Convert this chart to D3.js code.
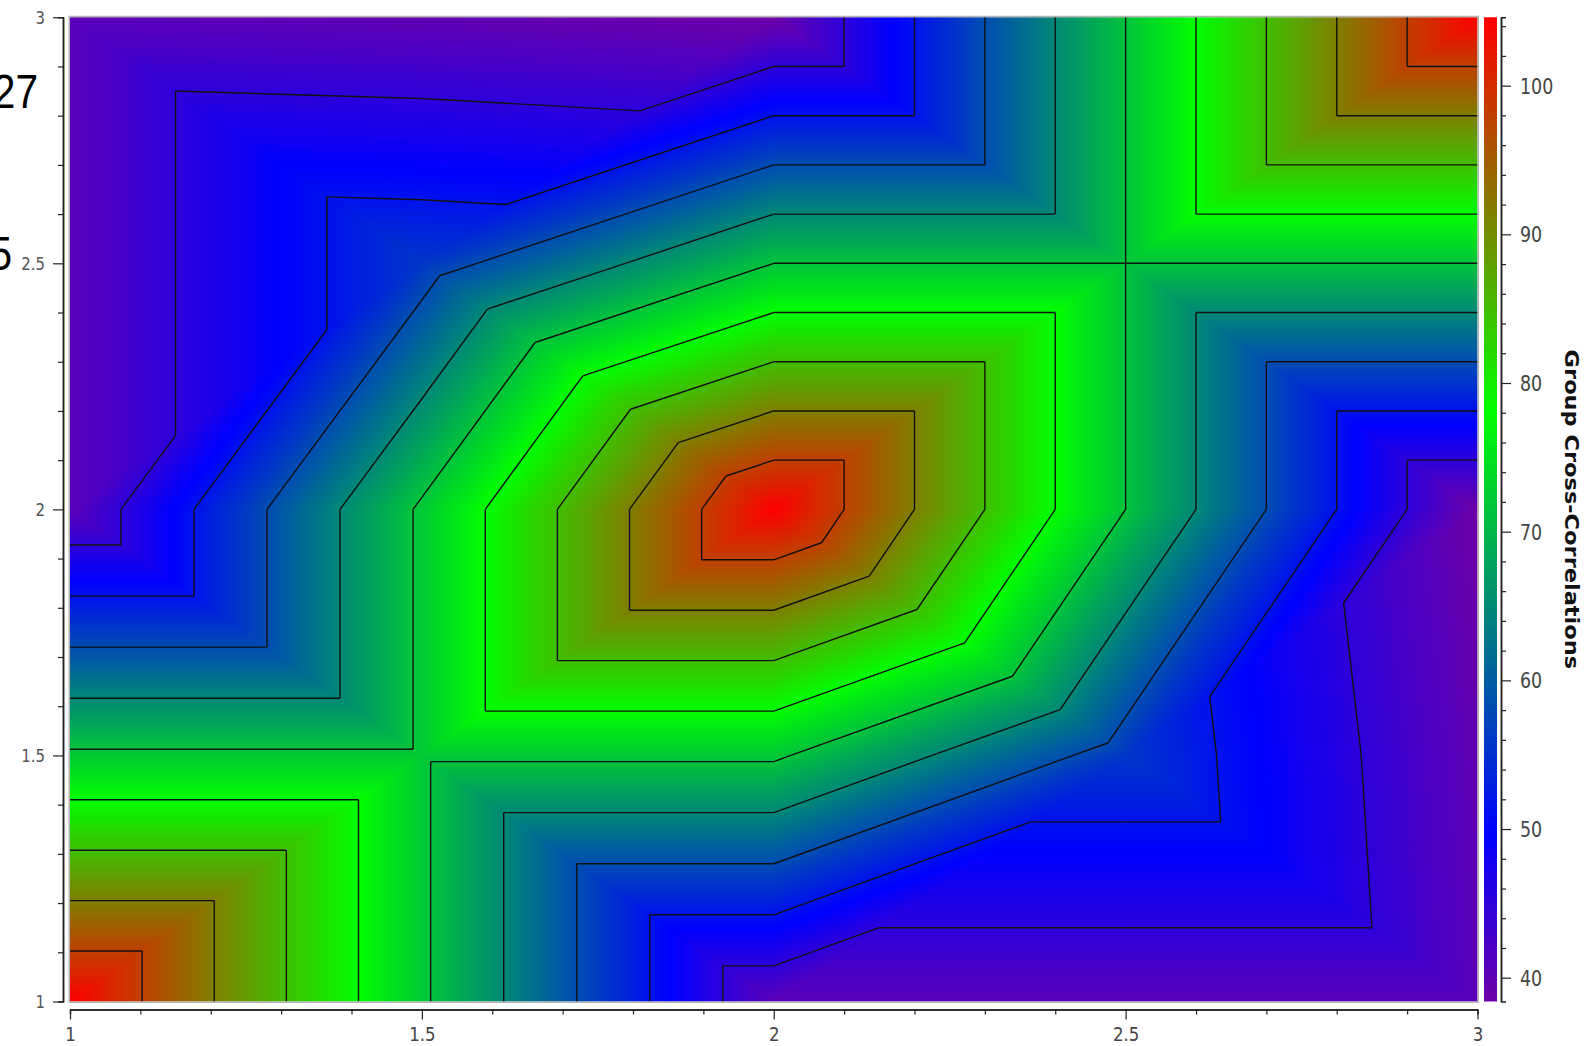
<!DOCTYPE html>
<html><head><meta charset="utf-8">
<script src="https://cdn.jsdelivr.net/npm/d3@7"></script>
<style>html,body{margin:0;padding:0;background:#fff;overflow:hidden}</style>
</head><body>
<svg id="chart" width="1591" height="1046"></svg>
<script>
// Sample grid (x and y positions of the measured nodes)
const gridX = [1, 1.5, 2, 2.5, 3];
const gridY = [1, 1.5, 2, 2.5, 3];
// Group cross-correlation values, one array per grid row (y = 1 ... 3)
const rowY1   = [104.6, 72.3, 40.4, 40.4, 40.4];
const rowY1_5 = [72.3, 72.3, 72.3, 55.8, 39.7];
const rowY2   = [40.4, 72.3, 104.6, 71.5, 38.4];
const rowY2_5 = [40.4, 55.8, 71.5, 71.5, 71.5];
const rowY3   = [40.4, 39.7, 38.4, 71.5, 104.6];
// Axis ticks
const xTicks = [1, 1.5, 2, 2.5, 3];
const yTicks = [1, 1.5, 2, 2.5, 3];
const colorTicks = [40, 50, 60, 70, 80, 90, 100];
// Colour map (fractions of the value range)
const colorStops = [0, 0.17, 0.6, 1];
const colorRange = ["#6e00a8", "#0000ff", "#00ff00", "#ff0000"];
const contourCount = 9;
const colorTitle = "Group Cross-Correlations";
const sideLabels = ["27", "5"];

const rows = [rowY1, rowY1_5, rowY2, rowY2_5, rowY3];
const allVals = rows.flat();
const vMin = d3.min(allVals), vMax = d3.max(allVals);

const svg = d3.select("#chart");
const SQ = 0.83; // horizontal glyph compression of the labels

const plot = {left: 70, right: 1477.5, top: 17.25, bottom: 1001.5};
const x = d3.scaleLinear().domain([1, 3]).range([plot.left, plot.right]);
const y = d3.scaleLinear().domain([1, 3]).range([plot.bottom, plot.top]);

const color = d3.scaleLinear()
  .domain(colorStops.map(t => vMin + t * (vMax - vMin)))
  .range(colorRange)
  .interpolate(d3.interpolateRgb)
  .clamp(true);

// Piecewise-linear field on the triangulated grid (alternating diagonals)
function field(px, py) {
  let i = d3.bisectRight(gridX, px) - 1; i = Math.max(0, Math.min(gridX.length - 2, i));
  let j = d3.bisectRight(gridY, py) - 1; j = Math.max(0, Math.min(gridY.length - 2, j));
  const u = (px - gridX[i]) / (gridX[i + 1] - gridX[i]);
  const v = (py - gridY[j]) / (gridY[j + 1] - gridY[j]);
  const a = rows[j][i], b = rows[j][i + 1], c = rows[j + 1][i], e = rows[j + 1][i + 1];
  if ((i + j) % 2 === 0) {
    return u >= v ? a + u * (b - a) + v * (e - b) : a + v * (c - a) + u * (e - c);
  }
  return u + v <= 1 ? a + u * (b - a) + v * (c - a) : e + (1 - u) * (c - e) + (1 - v) * (b - e);
}

// Heat map raster
const W = Math.round(plot.right - plot.left), H = Math.round(plot.bottom - plot.top);
const cnv = document.createElement("canvas");
cnv.width = W; cnv.height = H;
const ctx = cnv.getContext("2d");
const img = ctx.createImageData(W, H);
const lut = d3.range(1024).map(k => d3.rgb(color(vMin + (vMax - vMin) * k / 1023)));
for (let r = 0; r < H; r++) {
  const dy = y.invert(plot.top + (r + 0.5) * (plot.bottom - plot.top) / H);
  for (let q = 0; q < W; q++) {
    const dx = x.invert(plot.left + (q + 0.5) * (plot.right - plot.left) / W);
    const val = field(dx, dy);
    const k = Math.max(0, Math.min(1023, Math.round((val - vMin) / (vMax - vMin) * 1023)));
    const cc = lut[k], o = 4 * (r * W + q);
    img.data[o] = cc.r; img.data[o + 1] = cc.g; img.data[o + 2] = cc.b; img.data[o + 3] = 255;
  }
}
ctx.putImageData(img, 0, 0);
svg.append("image")
  .attr("x", plot.left).attr("y", plot.top)
  .attr("width", plot.right - plot.left).attr("height", plot.bottom - plot.top)
  .attr("preserveAspectRatio", "none")
  .attr("href", cnv.toDataURL());

// Contour lines: intersect each level with every triangle
const levels = d3.range(1, contourCount + 1).map(k => vMin + k * (vMax - vMin) / (contourCount + 1));
function triangles() {
  const tris = [];
  for (let j = 0; j < gridY.length - 1; j++) for (let i = 0; i < gridX.length - 1; i++) {
    const P = (ii, jj) => [gridX[ii], gridY[jj], rows[jj][ii]];
    const BL = P(i, j), BR = P(i + 1, j), TL = P(i, j + 1), TR = P(i + 1, j + 1);
    if ((i + j) % 2 === 0) tris.push([BL, BR, TR], [BL, TL, TR]);
    else tris.push([BL, BR, TL], [BR, TR, TL]);
  }
  return tris;
}
const tris = triangles();
const segs = [];
levels.forEach(L => {
  tris.forEach(t => {
    const pts = [];
    for (let k = 0; k < 3; k++) {
      const p = t[k], q = t[(k + 1) % 3];
      const pa = p[2] >= L, qa = q[2] >= L;
      if (pa !== qa) {
        const s = (L - p[2]) / (q[2] - p[2]);
        pts.push([p[0] + s * (q[0] - p[0]), p[1] + s * (q[1] - p[1])]);
      }
    }
    if (pts.length === 2) segs.push(pts);
  });
});
const line = d3.line().x(d => x(d[0])).y(d => y(d[1]));
svg.append("g").attr("fill", "none").attr("stroke", "#111").attr("stroke-width", 1.4)
  .selectAll("path").data(segs).join("path").attr("d", line);

// Plot frame
svg.append("rect").attr("x", plot.left - 0.75).attr("y", plot.top - 0.75)
  .attr("width", plot.right - plot.left + 1.5).attr("height", plot.bottom - plot.top + 1.5)
  .attr("fill", "none").attr("stroke", "#b4b4b4").attr("stroke-width", 1.5);

const minorX = d3.range(10, 31).map(v => v / 10).filter(v => !xTicks.includes(v));
const minorY = d3.range(10, 31).map(v => v / 10).filter(v => !yTicks.includes(v));
const fmt = d => String(d);

// Left axis
const gy = svg.append("g").attr("transform", "translate(63,0)");
gy.append("g").call(d3.axisLeft(y).tickValues(minorY).tickSize(5).tickFormat(""));
gy.append("g").call(d3.axisLeft(y).tickValues(yTicks).tickSize(10).tickSizeOuter(0).tickFormat(fmt));
gy.selectAll("path.domain").attr("stroke", "#222").attr("stroke-width", 1.5);
gy.selectAll("line").attr("stroke", "#222").attr("stroke-width", 1.2);
gy.selectAll(".tick text").attr("font-family", "DejaVu Sans").attr("font-size", 18).attr("fill", "#555")
  .attr("x", 0).attr("dy", "0.36em")
  .attr("transform", `translate(-18,0) scale(${SQ},1)`);

// Bottom axis
const gx = svg.append("g").attr("transform", "translate(0,1009.5)");
gx.append("g").call(d3.axisBottom(x).tickValues(minorX).tickSize(5).tickFormat(""));
gx.append("g").call(d3.axisBottom(x).tickValues(xTicks).tickSize(10).tickSizeOuter(0).tickFormat(fmt));
gx.selectAll("path.domain").attr("stroke", "#222").attr("stroke-width", 1.5);
gx.selectAll("line").attr("stroke", "#222").attr("stroke-width", 1.2);
gx.selectAll(".tick text").attr("font-family", "DejaVu Sans").attr("font-size", 20).attr("fill", "#444")
  .attr("y", 0).attr("dy", 0)
  .attr("transform", `translate(0,31) scale(${SQ},1)`);

// Colour bar
const cb = {left: 1484, right: 1497, top: plot.top, bottom: plot.bottom};
const cy = d3.scaleLinear().domain([vMin, vMax]).range([cb.bottom, cb.top]);
const grad = svg.append("defs").append("linearGradient").attr("id", "cbgrad")
  .attr("x1", 0).attr("y1", 1).attr("x2", 0).attr("y2", 0);
grad.selectAll("stop").data(colorStops).join("stop")
  .attr("offset", d => d).attr("stop-color", (d, k) => colorRange[k]);
svg.append("rect").attr("x", cb.left).attr("y", cb.top)
  .attr("width", cb.right - cb.left).attr("height", cb.bottom - cb.top)
  .attr("fill", "url(#cbgrad)");
const minorC = d3.range(38, 106, 2).filter(v => !colorTicks.includes(v) && v >= vMin && v <= vMax);
const gc = svg.append("g").attr("transform", "translate(1501,0)");
gc.append("g").call(d3.axisRight(cy).tickValues(minorC).tickSize(5).tickFormat(""));
gc.append("g").call(d3.axisRight(cy).tickValues(colorTicks).tickSize(10).tickSizeOuter(0).tickFormat(fmt));
gc.selectAll("path.domain").attr("stroke", "#222").attr("stroke-width", 1.5);
gc.selectAll("line").attr("stroke", "#222").attr("stroke-width", 1.2);
gc.selectAll(".tick text").attr("font-family", "DejaVu Sans").attr("font-size", 21).attr("fill", "#444")
  .attr("x", 0).attr("dy", "0.36em")
  .attr("transform", `translate(19,0) scale(${SQ},1)`);

svg.append("text")
  .attr("transform", `translate(1572,${(cb.top + cb.bottom) / 2}) scale(${SQ},1) rotate(90)`)
  .attr("text-anchor", "middle").attr("dy", "0.35em")
  .attr("font-family", "DejaVu Sans").attr("font-weight", "bold").attr("font-size", 22.5)
  .attr("fill", "#111").text(colorTitle);

// Partially visible labels at the left border
svg.append("text").attr("transform", `translate(38,108) scale(${SQ},1)`)
  .attr("text-anchor", "end").attr("font-family", "Liberation Sans").attr("font-size", 49)
  .attr("fill", "#000").text(sideLabels[0]);
svg.append("text").attr("transform", `translate(12,270) scale(${SQ},1)`)
  .attr("text-anchor", "end").attr("font-family", "Liberation Sans").attr("font-size", 49)
  .attr("fill", "#000").text(sideLabels[1]);
</script>
</body></html>
